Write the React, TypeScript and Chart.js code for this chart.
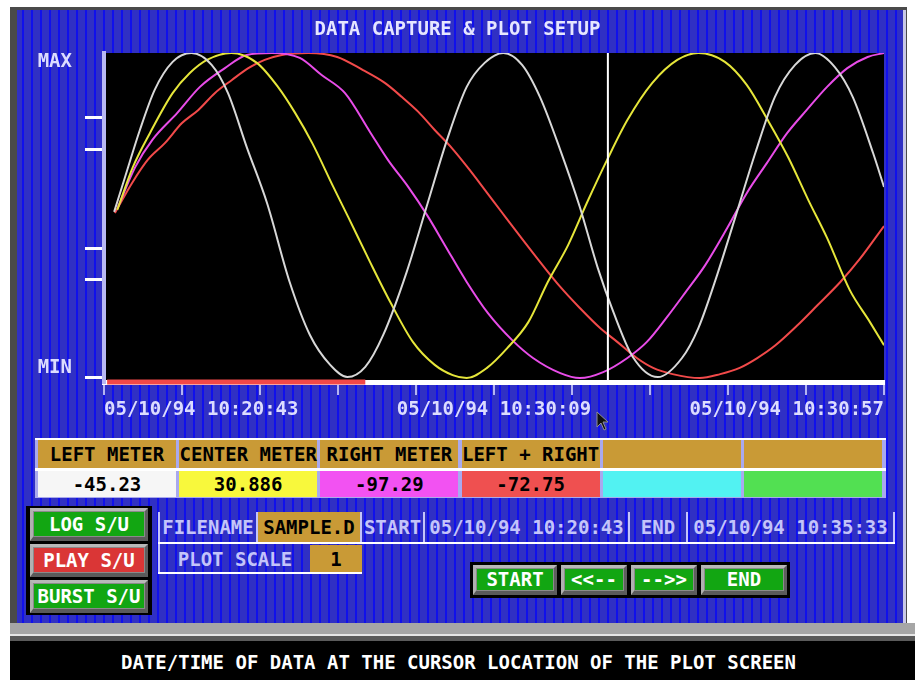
import React, { useEffect, useRef } from 'react';
import { Chart, registerables } from 'chart.js';

Chart.register(...registerables);

const FONT = "'DejaVu Sans Mono', 'Liberation Mono', monospace";

// ---------- chart data ----------
const TITLE = 'DATA CAPTURE & PLOT SETUP';
const X_TICK_LABELS: Record<number, string> = {
  0: '05/10/94 10:20:43',
  5: '05/10/94 10:30:09',
  10: '05/10/94 10:30:57',
};
const Y_TICK_MARKS = [1.5, 31.3, 40.7, 70.8, 80.5];
const Y_LABEL_TICKS = [
  { value: 4.3, label: 'MIN' },
  { value: 97.3, label: 'MAX' },
];
const CURSOR_X = 6.46;
const CAPTURED_RANGE = [0.04, 3.35];

const WHITE_TRACE: [number, number][] = [
  [0.13, 51.7], [0.27, 62.3], [0.46, 76.6], [0.65, 88.8], [0.88, 97.3], [1.12, 100], [1.38, 96.4],
  [1.59, 87.8], [1.83, 71.4], [2.09, 54.4], [2.38, 30.4], [2.64, 14.3], [2.9, 5.2], [3.12, 1.5],
  [3.35, 4.6], [3.58, 14.3], [3.88, 33.4], [4.15, 54.4], [4.41, 74.5], [4.65, 89.7], [4.88, 97.0],
  [5.12, 100], [5.36, 96.4], [5.59, 86.6], [5.85, 70.5], [6.1, 53.2], [6.33, 34.7], [6.53, 21.3],
  [6.78, 7.6], [7.1, 1.5], [7.41, 7.3], [7.62, 16.4], [7.86, 32.5], [8.09, 49.8], [8.35, 69.6],
  [8.6, 86.6], [8.86, 96.4], [9.12, 100], [9.37, 95.7], [9.6, 86.6], [9.86, 69.6], [10.0, 59.3],
];

const YELLOW_TRACE: [number, number][] = [
  [0.17, 52.3], [0.37, 65.3], [0.59, 75.7], [0.88, 87.8], [1.1, 93.9], [1.32, 97.9], [1.63, 100],
  [1.96, 97.0], [2.23, 89.7], [2.45, 81.8], [2.67, 72.6], [2.94, 59.3], [3.13, 50.2], [3.41, 36.5],
  [3.67, 24.3], [3.96, 12.2], [4.24, 5.2], [4.47, 2.1], [4.65, 1.2], [4.91, 4.3], [5.17, 10.3],
  [5.44, 18.2], [5.69, 30.4], [5.95, 41.6], [6.19, 54.4], [6.45, 67.5], [6.71, 79.6], [7.03, 90.9],
  [7.35, 97.9], [7.62, 100], [7.96, 97.3], [8.24, 90.3], [8.51, 79.6], [8.77, 68.4], [9.03, 55.3],
  [9.27, 43.8], [9.56, 28.0], [9.82, 18.2], [10.0, 11.2],
];

const MAGENTA_TRACE: [number, number][] = [
  [0.18, 53.2], [0.4, 65.3], [0.62, 73.6], [0.94, 81.8], [1.23, 89.7], [1.55, 95.4], [1.83, 99.4],
  [2.15, 100], [2.51, 98.5], [2.79, 93.3], [3.09, 87.8], [3.41, 76.0], [3.64, 67.5], [3.9, 59.3],
  [4.14, 50.8], [4.37, 41.6], [4.65, 30.4], [4.92, 21.0], [5.23, 12.8], [5.5, 7.3], [5.85, 2.7],
  [6.1, 1.2], [6.4, 3.0], [6.71, 7.3], [6.96, 12.2], [7.22, 19.8], [7.45, 27.1], [7.71, 35.6],
  [7.99, 46.8], [8.24, 57.4], [8.5, 66.6], [8.76, 75.7], [9.01, 82.7], [9.27, 89.7], [9.53, 95.4],
  [9.79, 98.8], [10.0, 100],
];

const RED_TRACE: [number, number][] = [
  [0.14, 51.4], [0.36, 60.5], [0.56, 67.5], [0.78, 72.6], [1.0, 78.7], [1.21, 82.7], [1.42, 87.8],
  [1.64, 91.8], [1.85, 95.4], [2.06, 97.9], [2.28, 99.4], [2.62, 100], [2.99, 98.8], [3.32, 94.8],
  [3.6, 90.9], [3.82, 86.6], [4.03, 82.1], [4.24, 76.6], [4.46, 71.1], [4.67, 65.0], [4.88, 58.5],
  [5.1, 51.6], [5.37, 43.2], [5.63, 35.3], [5.85, 28.9], [6.1, 22.5], [6.36, 16.4], [6.58, 12.2],
  [6.83, 7.3], [7.04, 4.3], [7.29, 2.4], [7.64, 1.2], [7.9, 2.4], [8.15, 4.3], [8.37, 7.2],
  [8.6, 11.0], [8.88, 17.0], [9.15, 23.4], [9.44, 30.4], [9.69, 37.4], [10.0, 47.4],
];

// ---------- panel data ----------
const METER_LABELS = ['LEFT METER', 'CENTER METER', 'RIGHT METER', 'LEFT + RIGHT', '', ''];
const METER_VALUES = ['-45.23', '30.886', '-97.29', '-72.75', '', ''];
const METER_COLORS = ['#f6f6f6', '#f8f83c', '#f252f2', '#ef5050', '#52f2f2', '#52e052'];
const SIDE_BUTTONS = ['LOG S/U', 'PLAY S/U', 'BURST S/U'];
const SIDE_COLORS = ['#12a612', '#da3636', '#12a612'];
const INFO_ROW_TEXT = ['FILENAME', 'SAMPLE.D', 'START', '05/10/94 10:20:43', 'END', '05/10/94 10:35:33'];
const INFO_ROW_GOLD = [false, true, false, false, false, false];
const INFO_ROW_WIDTHS = [98, 104, 63, 205, 58, 207];
const SCALE_TEXT = ['PLOT SCALE', '1'];
const SCALE_WIDTHS = [150, 52];
const NAV_BUTTONS = ['START', '<<--', '-->>', 'END'];
const NAV_WIDTHS = [84, 66, 66, 86];
const STATUS_TEXT = 'DATE/TIME OF DATA AT THE CURSOR LOCATION OF THE PLOT SCREEN';

const GOLD = '#c99a36';
const LAV = '#c4c4fa';
const BLUE_BG =
  'repeating-linear-gradient(90deg, #3030c4 0px, #3030c4 5px, #1010ec 5px, #1010ec 7px, #3030c4 7px, #3030c4 9px)';

const pts = (a: [number, number][]) => a.map(([x, y]) => ({ x, y }));
const isLabelTick = (v: number) => Y_LABEL_TICKS.some((t) => Math.abs(t.value - v) < 0.01);

const plotBackground = {
  id: 'plotBackground',
  beforeDraw(chart: any) {
    const { ctx, chartArea: a } = chart;
    ctx.save();
    ctx.fillStyle = '#000000';
    ctx.fillRect(a.left, a.top, a.right - a.left, a.bottom - a.top);
    ctx.restore();
  },
};

function Box(props: { x: number; y: number; w: number; h: number; style?: React.CSSProperties; children?: React.ReactNode }) {
  const { x, y, w, h, style, children } = props;
  return (
    <div style={{ position: 'absolute', left: x, top: y, width: w, height: h, boxSizing: 'border-box', ...style }}>
      {children}
    </div>
  );
}

const textStyle: React.CSSProperties = {
  fontFamily: FONT,
  fontWeight: 'bold',
  fontSize: 19,
  lineHeight: 1,
  whiteSpace: 'nowrap',
  display: 'flex',
  alignItems: 'center',
  justifyContent: 'center',
};

function Bevel(props: { x: number; y: number; w: number; h: number; face: string; label: string }) {
  const { x, y, w, h, face, label } = props;
  return (
    <Box
      x={x}
      y={y}
      w={w}
      h={h}
      style={{
        background: '#8a8a8a',
        borderTop: '3px solid #b8b8b8',
        borderLeft: '3px solid #b0b0b0',
        borderBottom: '4px solid #5a5a5a',
        borderRight: '3px solid #5e5e5e',
      }}
    >
      <div style={{ ...textStyle, position: 'absolute', inset: 1, background: face, color: '#ffffff' }}>{label}</div>
    </Box>
  );
}

function PlotChart() {
  const ref = useRef<HTMLCanvasElement | null>(null);
  useEffect(() => {
    if (!ref.current) return;
    const lineDefaults = { pointRadius: 0, borderWidth: 2, cubicInterpolationMode: 'monotone' as const, fill: false };
    const chart = new Chart(ref.current, {
      type: 'line',
      data: {
        datasets: [
          {
            label: 'cursor',
            data: [{ x: CURSOR_X, y: 0 }, { x: CURSOR_X, y: 100 }],
            borderColor: '#ffffff',
            borderWidth: 2,
            pointRadius: 0,
            tension: 0,
          },
          { label: 'LEFT METER', data: pts(WHITE_TRACE), borderColor: '#d8d8d8', ...lineDefaults },
          { label: 'CENTER METER', data: pts(YELLOW_TRACE), borderColor: '#e6e63a', ...lineDefaults },
          { label: 'RIGHT METER', data: pts(MAGENTA_TRACE), borderColor: '#e84ce8', ...lineDefaults },
          { label: 'LEFT + RIGHT', data: pts(RED_TRACE), borderColor: '#f24a4a', ...lineDefaults },
          {
            label: 'captured',
            data: [{ x: CAPTURED_RANGE[0], y: 0 }, { x: CAPTURED_RANGE[1], y: 0 }],
            borderColor: '#f24848',
            borderWidth: 5,
            pointRadius: 0,
            tension: 0,
            clip: false as any,
          },
        ],
      },
      options: {
        animation: false,
        responsive: true,
        maintainAspectRatio: false,
        layout: { padding: { left: 31, right: 31, top: 0, bottom: 0 } },
        plugins: {
          legend: { display: false },
          tooltip: { enabled: false },
          title: {
            display: true,
            text: TITLE,
            color: '#e6e6ff',
            font: { family: FONT, size: 19, weight: 'bold' },
            padding: { top: 18.6, bottom: 11.6 },
          },
        },
        scales: {
          x: {
            type: 'linear',
            min: 0,
            max: 10,
            afterFit: (s: any) => {
              s.height = 48;
            },
            ticks: {
              stepSize: 1,
              autoSkip: false,
              maxRotation: 0,
              align: 'inner',
              padding: 4,
              color: '#dcdcff',
              font: { family: FONT, size: 19, weight: 'bold' },
              callback: (v: any) => X_TICK_LABELS[Math.round(Number(v))] ?? '',
            },
            grid: { drawOnChartArea: false, drawTicks: true, tickLength: 13, color: '#b4b4f2', lineWidth: 2 },
            border: { display: true, color: '#ffffff', width: 5 },
          },
          y: {
            type: 'linear',
            min: 0,
            max: 100,
            afterFit: (s: any) => {
              s.width = 73;
            },
            afterBuildTicks: (axis: any) => {
              const vals = [...Y_TICK_MARKS, ...Y_LABEL_TICKS.map((t) => t.value)].sort((a, b) => a - b);
              axis.ticks = vals.map((value) => ({ value }));
            },
            ticks: {
              padding: 13,
              color: '#dcdcff',
              font: { family: FONT, size: 19, weight: 'bold' },
              callback: (v: any) => {
                const t = Y_LABEL_TICKS.find((l) => Math.abs(l.value - Number(v)) < 0.01);
                return t ? t.label : '';
              },
            },
            grid: {
              drawOnChartArea: false,
              drawTicks: true,
              tickLength: 19,
              lineWidth: 3,
              color: (ctx: any) => (ctx.tick && isLabelTick(ctx.tick.value) ? 'rgba(0,0,0,0)' : '#ffffff'),
            },
            border: { display: true, color: '#b8b8f4', width: 4 },
          },
        },
      },
      plugins: [plotBackground],
    });
    return () => chart.destroy();
  }, []);
  return (
    <div style={{ position: 'absolute', left: 0, top: 0, width: 915, height: 430 }}>
      <canvas ref={ref} />
    </div>
  );
}

export default function App() {
  let infoX = 160;
  let scaleX = 160;
  let navX = 473;
  return (
    <div style={{ position: 'fixed', left: 0, top: 0, width: 915, height: 680, background: '#ffffff', overflow: 'hidden' }}>
      {/* frame */}
      <Box x={10} y={7} w={897} h={617} style={{ background: '#4a4a4a' }} />
      <Box x={17} y={10} w={887} h={613} style={{ background: BLUE_BG }} />
      <Box x={903} y={10} w={3} h={613} style={{ background: '#c8c8e6' }} />
      <Box x={10} y={623} w={905} h={11} style={{ background: '#a6a6a6' }} />
      <Box x={10} y={634} w={905} h={2} style={{ background: '#e6e6e6' }} />
      <Box x={10} y={636} w={905} h={5} style={{ background: '#5a5a5a' }} />
      <Box x={10} y={641} w={905} h={39} style={{ background: '#000000' }}>
        <div style={{ ...textStyle, position: 'absolute', inset: 0, paddingTop: 4, paddingRight: 8, color: '#ffffff' }}>
          {STATUS_TEXT}
        </div>
      </Box>

      {/* meter table */}
      <Box x={35} y={438} w={851} h={60} style={{ background: '#a9a9ee' }}>
        <Box x={0} y={0} w={851} h={2} style={{ background: '#ffffff' }} />
        <Box x={0} y={30} w={851} h={3} style={{ background: '#ffffff' }} />
        {METER_LABELS.map((lab, i) => (
          <React.Fragment key={i}>
            <Box x={3 + i * 141.2} y={2} w={138} h={28} style={{ ...textStyle, background: GOLD, color: '#000000' }}>
              {lab}
            </Box>
            <Box
              x={3 + i * 141.2}
              y={33}
              w={138}
              h={26}
              style={{ ...textStyle, background: METER_COLORS[i], color: '#000000' }}
            >
              {METER_VALUES[i]}
            </Box>
          </React.Fragment>
        ))}
      </Box>

      {/* side buttons */}
      <Box x={26} y={506} w={126} h={109} style={{ background: '#000000' }} />
      {SIDE_BUTTONS.map((b, i) => (
        <Bevel key={b} x={30} y={508 + i * 36} w={118} h={33} face={SIDE_COLORS[i]} label={b} />
      ))}

      {/* info rows */}
      <Box x={158} y={512} w={2} h={62} style={{ background: LAV }} />
      {INFO_ROW_TEXT.map((t, i) => {
        const x = infoX;
        infoX += INFO_ROW_WIDTHS[i];
        return (
          <Box
            key={'r' + i}
            x={x}
            y={512}
            w={INFO_ROW_WIDTHS[i]}
            h={30}
            style={{
              ...textStyle,
              background: INFO_ROW_GOLD[i] ? GOLD : 'transparent',
              color: INFO_ROW_GOLD[i] ? '#000000' : LAV,
              borderRight: `2px solid ${LAV}`,
            }}
          >
            {t}
          </Box>
        );
      })}
      <Box x={158} y={542} w={737} h={2} style={{ background: '#ffffff' }} />
      {SCALE_TEXT.map((t, i) => {
        const x = scaleX;
        scaleX += SCALE_WIDTHS[i];
        return (
          <Box
            key={'s' + i}
            x={x}
            y={545}
            w={SCALE_WIDTHS[i]}
            h={28}
            style={{
              ...textStyle,
              background: i === 1 ? GOLD : 'transparent',
              color: i === 1 ? '#000000' : LAV,
            }}
          >
            {t}
          </Box>
        );
      })}
      <Box x={158} y={572} w={204} h={2} style={{ background: '#ffffff' }} />

      {/* navigation buttons */}
      <Box x={470} y={562} w={320} h={36} style={{ background: '#000000' }} />
      {NAV_BUTTONS.map((b, i) => {
        const x = navX;
        navX += NAV_WIDTHS[i] + 4;
        return <Bevel key={b} x={x} y={565} w={NAV_WIDTHS[i]} h={30} face="#12a612" label={b} />;
      })}

      <PlotChart />

      {/* mouse pointer */}
      <svg style={{ position: 'absolute', left: 596, top: 411 }} width="14" height="20" viewBox="0 0 14 20">
        <polygon points="1,1 1,16 5,12 8,19 10,18 7,11 12,11" fill="#101010" stroke="#909090" strokeWidth="1" />
      </svg>
    </div>
  );
}
